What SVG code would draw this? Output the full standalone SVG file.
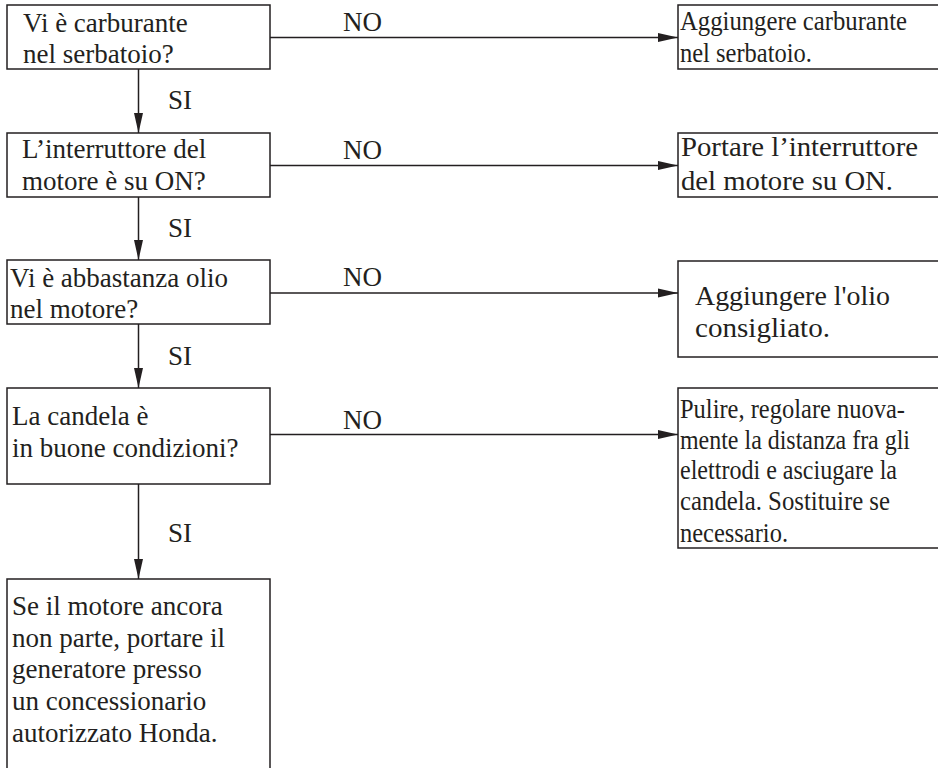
<svg xmlns="http://www.w3.org/2000/svg" width="938" height="768" viewBox="0 0 938 768">
<style>
.box{fill:#fff;stroke:#231f20;stroke-width:1.5}
.ln{stroke:#231f20;stroke-width:1.5;fill:none}
text{font-family:"Liberation Serif","Times New Roman",serif;font-size:27px;fill:#231f20}
.c{font-size:27px}
</style>
<defs>
<marker id="ah" markerUnits="userSpaceOnUse" markerWidth="20" markerHeight="10" refX="20" refY="5" orient="auto">
<path d="M0,0.5 L20,5 L0,9.5 Z" fill="#231f20"/>
</marker>
</defs>
<rect width="938" height="768" fill="#fff"/>
<g id="connectors">
<line class="ln" x1="270" y1="37.5" x2="678" y2="37.5" marker-end="url(#ah)"/>
<line class="ln" x1="270" y1="165.5" x2="678" y2="165.5" marker-end="url(#ah)"/>
<line class="ln" x1="270" y1="293" x2="678" y2="293" marker-end="url(#ah)"/>
<line class="ln" x1="270" y1="434.5" x2="678" y2="434.5" marker-end="url(#ah)"/>
<line class="ln" x1="138.5" y1="69" x2="138.5" y2="133" marker-end="url(#ah)"/>
<line class="ln" x1="138.5" y1="197" x2="138.5" y2="260" marker-end="url(#ah)"/>
<line class="ln" x1="138.5" y1="324" x2="138.5" y2="388" marker-end="url(#ah)"/>
<line class="ln" x1="138.5" y1="484" x2="138.5" y2="579" marker-end="url(#ah)"/>
<text x="343" y="31">NO</text>
<text x="343" y="159">NO</text>
<text x="343" y="286">NO</text>
<text x="343" y="429">NO</text>
<text x="168" y="109">SI</text>
<text x="168" y="237">SI</text>
<text x="168" y="365">SI</text>
<text x="168" y="542">SI</text>
</g>
<g id="q1">
<rect class="box" x="7" y="5" width="263" height="64"/>
<text x="23" y="32">Vi è carburante</text>
<text x="23" y="63">nel serbatoio?</text>
</g>
<g id="q2">
<rect class="box" x="7" y="133" width="263" height="64"/>
<text x="22" y="158">L’interruttore del</text>
<text x="22" y="190">motore è su ON?</text>
</g>
<g id="q3">
<rect class="box" x="7" y="260" width="263" height="64"/>
<text x="10" y="287">Vi è abbastanza olio</text>
<text x="10" y="318">nel motore?</text>
</g>
<g id="q4">
<rect class="box" x="7" y="388" width="263" height="96"/>
<text x="12" y="425">La candela è</text>
<text x="12" y="457">in buone condizioni?</text>
</g>
<g id="end">
<rect class="box" x="7" y="579" width="263" height="200"/>
<text x="12" y="615">Se il motore ancora</text>
<text x="12" y="647">non parte, portare il</text>
<text x="12" y="678">generatore presso</text>
<text x="12" y="710">un concessionario</text>
<text x="12" y="742">autorizzato Honda.</text>
</g>
<g id="a1">
<rect class="box" x="678" y="5" width="270" height="64"/>
<text x="680" y="30" textLength="227" lengthAdjust="spacingAndGlyphs">Aggiungere carburante</text>
<text x="680" y="62" textLength="132" lengthAdjust="spacingAndGlyphs">nel serbatoio.</text>
</g>
<g id="a2">
<rect class="box" x="678" y="133" width="270" height="64"/>
<text x="681" y="156" textLength="237" lengthAdjust="spacingAndGlyphs">Portare l’interruttore</text>
<text x="681" y="190" textLength="212" lengthAdjust="spacingAndGlyphs">del motore su ON.</text>
</g>
<g id="a3">
<rect class="box" x="678" y="261" width="270" height="96"/>
<text x="695" y="305" textLength="195" lengthAdjust="spacingAndGlyphs">Aggiungere l'olio</text>
<text x="695" y="337" textLength="135" lengthAdjust="spacingAndGlyphs">consigliato.</text>
</g>
<g id="a4">
<rect class="box" x="678" y="388" width="270" height="160"/>
<text x="680" y="418" textLength="225" lengthAdjust="spacingAndGlyphs">Pulire, regolare nuova-</text>
<text x="680" y="449" textLength="230" lengthAdjust="spacingAndGlyphs">mente la distanza fra gli</text>
<text x="680" y="479" textLength="217" lengthAdjust="spacingAndGlyphs">elettrodi e asciugare la</text>
<text x="680" y="510" textLength="210" lengthAdjust="spacingAndGlyphs">candela. Sostituire se</text>
<text x="680" y="542" textLength="108" lengthAdjust="spacingAndGlyphs">necessario.</text>
</g>
</svg>
